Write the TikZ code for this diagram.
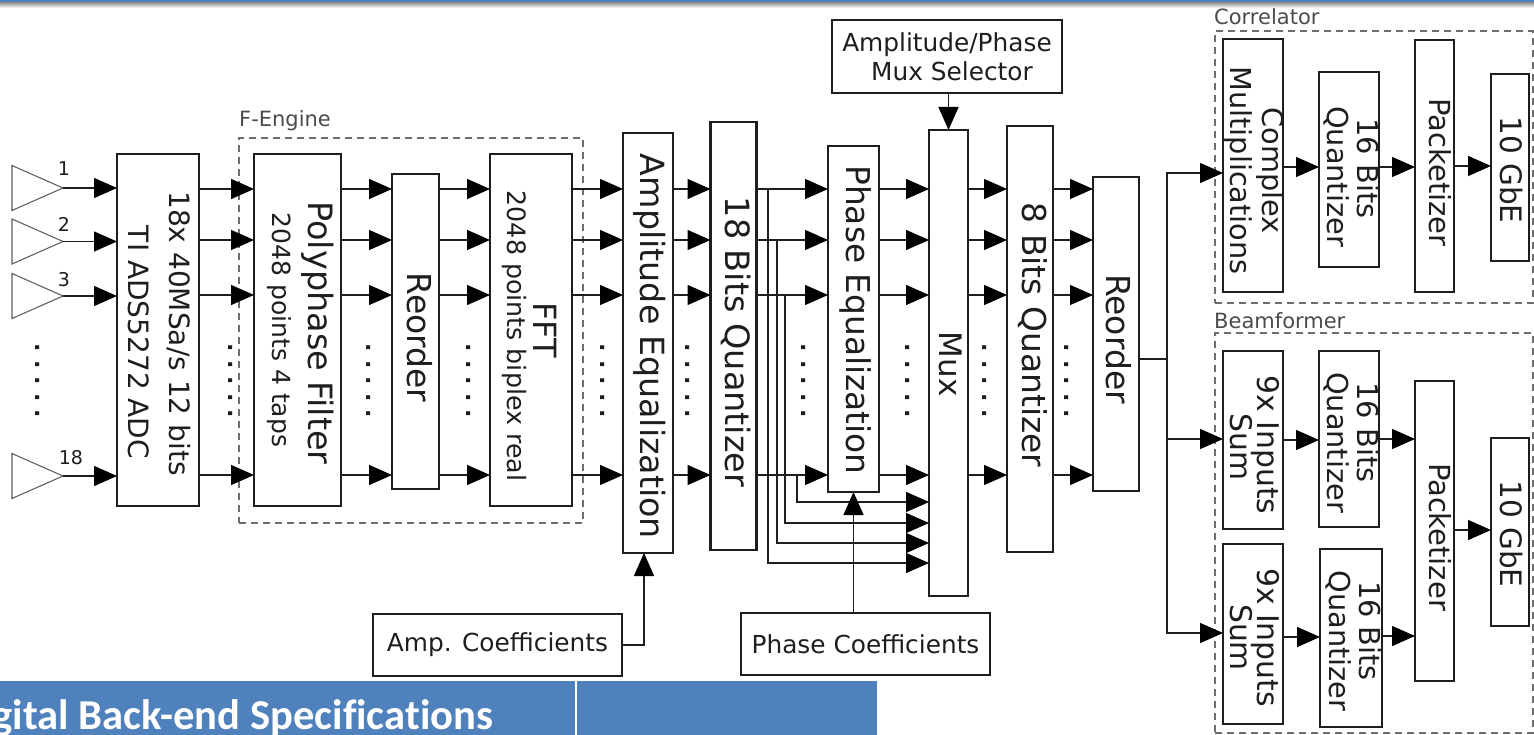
\documentclass[tikz,border=0pt]{standalone}
\usepackage{fontspec}
\setmainfont{DejaVu Sans}
\newfontfamily\tblfont[Ligatures=NoCommon]{Carlito}
\usepackage{xcolor}
\usetikzlibrary{positioning,arrows.meta,shapes.geometric}
\definecolor{ink}{HTML}{1E1E1E}
\definecolor{dashgray}{HTML}{6E6E6E}
\definecolor{hdrblue}{HTML}{4F81BD}
% dx, dy, size, baseline, lines
\newcommand{\vlab}[5]{\makebox[0pt]{\hspace*{#1pt}\hspace*{#1pt}\rotatebox{-90}{\hspace*{#2pt}\hspace*{#2pt}\fontsize{#3}{#4}\selectfont\begin{tabular}{@{}c@{}}#5\end{tabular}}}}
\newcommand{\smalltxt}{\fontsize{25}{27}\selectfont}
\newcommand{\dotrow}{\rotatebox{-90}{\fontsize{22}{24}\selectfont\textbf{.\hspace{8.2pt}.\hspace{8.2pt}.\hspace{8.2pt}.\hspace{8.2pt}.}}}
\tikzset{
  blk/.style={draw=ink, line width=2.2pt, inner sep=0pt, outer sep=0pt, text=ink},
  hblk/.style={draw=ink, line width=1.6pt, inner sep=0pt, outer sep=0pt, text=ink, font=\fontsize{24.8}{29}\selectfont, align=center},
  grp/.style={draw=dashgray, line width=1.6pt, dash pattern=on 7pt off 5pt, inner sep=0pt, outer sep=0pt},
  grplbl/.style={text=ink!80, font=\fontsize{21}{23}\selectfont, inner sep=0pt, anchor=west},
  numlbl/.style={text=ink, font=\fontsize{19}{21}\selectfont, inner sep=0pt},
  ant/.style={isosceles triangle, isosceles triangle stretches, shape border rotate=0, draw=ink!70, line width=1.1pt, minimum height=51pt, minimum width=45pt, inner sep=0pt, outer sep=0pt, anchor=apex},
  sig/.style={draw=ink, line width=1.4pt, -{Triangle[length=23pt,width=20pt,color=black]}},
  wire/.style={draw=ink, line width=1.4pt}
}
\begin{document}
\begin{tikzpicture}[x=1pt,y=-1pt]
  \useasboundingbox (0,0) rectangle (1534,735);
  % top rule and table strip
  \fill[top color=black!45,bottom color=white] (0,2) rectangle (1534,8);
  \fill[hdrblue] (0,0) rectangle (1534,2.5);
  \node[fill=hdrblue, minimum width=575pt, minimum height=54pt, inner sep=0pt, outer sep=0pt] (tblA) at (287.5,708) {};
  \node[fill=hdrblue, minimum width=300pt, minimum height=54pt, inner sep=0pt, outer sep=0pt] (tblB) at (727,708) {};
  \node[text=white, font=\tblfont\bfseries\fontsize{42.6}{44}\selectfont, inner sep=0pt, anchor=base west] (tbltxt) at (-45,729) {Digital Back-end Specifications};
  % groups
  \node[grp, minimum width=344pt, minimum height=385pt] (fengine) at (411,330.5) {};
  \node[grp, minimum width=318pt, minimum height=272pt] (corr) at (1374,167) {};
  \node[grp, minimum width=318pt, minimum height=400pt] (beam) at (1374,533) {};
  \node[grplbl] (fenginelbl) at (239,121) {F-Engine};
  \node[grplbl] (corrlbl) at (1214,17) {Correlator};
  \node[grplbl] (beamlbl) at (1214,321) {Beamformer};
  % front end
  \node[ant] (ant1) at (63,188) {};
  \node[ant] (ant2) at (63,241.5) {};
  \node[ant] (ant3) at (63,296) {};
  \node[ant] (ant18) at (63,476) {};
  \node[numlbl] (num1) at (64,169) {1};
  \node[numlbl] (num2) at (64,224) {2};
  \node[numlbl] (num3) at (64,280) {3};
  \node[numlbl] (num18) at (71,458) {18};
  % main chain
  \node[blk, minimum width=82pt, minimum height=352pt] (adc) at (158,330) {\vlab{-1}{3.5}{28}{41}{18x 40MSa/s 12 bits\\\hspace*{18pt}TI ADS5272 ADC}};
  \node[blk, minimum width=87pt, minimum height=352pt] (pf) at (297.5,330) {\vlab{0}{0}{33.5}{36}{\hspace*{6pt}Polyphase Filter\\{\smalltxt 2048 points 4 taps}}};
  \node[blk, minimum width=47pt, minimum height=315pt] (reordA) at (415.5,331.5) {\vlab{-1}{6}{33}{36}{Reorder}};
  \node[blk, minimum width=82pt, minimum height=352pt] (fft) at (531,330) {\vlab{-2.5}{6}{32}{25}{\hspace*{-12pt}FFT\\{\fontsize{25.3}{27}\selectfont 2048 points biplex real}}};
  \node[blk, minimum width=50pt, minimum height=420pt] (ampeq) at (648,343) {\vlab{0}{3.5}{33.3}{36}{Amplitude Equalization}};
  \node[blk, minimum width=46pt, minimum height=428pt] (quantA) at (733.5,336) {\vlab{-1}{6}{33.5}{36}{18 Bits Quantizer}};
  \node[blk, minimum width=51pt, minimum height=346pt] (phaseq) at (853.5,319) {\vlab{0}{1}{32.8}{36}{Phase Equalization}};
  \node[blk, minimum width=39pt, minimum height=466pt] (mux) at (948.5,363) {\vlab{-2}{1}{31}{34}{Mux}};
  \node[blk, minimum width=46pt, minimum height=426pt] (quantB) at (1030,339) {\vlab{0}{-4}{32.9}{36}{8 Bits Quantizer}};
  \node[blk, minimum width=46pt, minimum height=314pt] (reordB) at (1116,334) {\vlab{-2}{5}{33}{36}{Reorder}};
  % control boxes
  \node[hblk, minimum width=230pt, minimum height=73pt] (muxsel) at (947,56.5) {Amplitude/Phase\\\hspace*{10pt}Mux Selector};
  \node[hblk, minimum width=249pt, minimum height=62pt] (ampco) at (497.5,645) {Amp. Coefficients};
  \node[hblk, minimum width=249pt, minimum height=62pt] (phaco) at (865.5,644) {Phase Coefficients};
  % correlator
  \node[blk, minimum width=60pt, minimum height=253pt] (cmul) at (1253,165.5) {\vlab{0}{5}{28.8}{32}{Complex\\Multiplications}};
  \node[blk, minimum width=60pt, minimum height=195pt] (cquant) at (1349,169.5) {\vlab{0}{-1}{28.8}{29}{16 Bits\\\hspace*{16pt}Quantizer}};
  \node[blk, minimum width=39pt, minimum height=252pt] (cpack) at (1434.5,166) {\vlab{1}{6.5}{29}{31}{Packetizer}};
  \node[blk, minimum width=38pt, minimum height=187pt] (cgbe) at (1510,167.5) {\vlab{-3}{2.5}{29.5}{31}{10 GbE}};
  % beamformer
  \node[blk, minimum width=60pt, minimum height=178pt] (sumA) at (1253,440) {\vlab{-1.5}{5}{29.8}{25}{9x Inputs\\[-3pt]\hspace*{4pt}Sum}};
  \node[blk, minimum width=60pt, minimum height=176pt] (bquantA) at (1349,439) {\vlab{0}{-6.5}{28.8}{29}{16 Bits\\\hspace*{20pt}Quantizer}};
  \node[blk, minimum width=60pt, minimum height=180pt] (sumB) at (1253,634) {\vlab{-1.5}{3.5}{29.8}{25}{9x Inputs\\[-3pt]Sum}};
  \node[blk, minimum width=62pt, minimum height=178pt] (bquantB) at (1351,638) {\vlab{0}{-7}{28.8}{29}{16 Bits\\\hspace*{20pt}Quantizer}};
  \node[blk, minimum width=39pt, minimum height=300pt] (bpack) at (1434.5,531) {\vlab{1}{6}{29}{31}{Packetizer}};
  \node[blk, minimum width=38pt, minimum height=188pt] (bgbe) at (1510,532) {\vlab{-3}{2}{29.5}{31}{10 GbE}};
  % dots
  \foreach \x/\n in {38/a,231/b,369/c,469/d,603/e,688/f,804/g,908/h,985/i,1067/j}
    \node[inner sep=0pt, text=ink] (dots\n) at (\x,381) {\dotrow};
  % antennas to adc
  \foreach \n in {1,2,3,18}
    \draw[sig] (ant\n.apex) -- (adc.west |- ant\n.apex);
  % parallel lanes
  \foreach \a/\b in {adc/pf,pf/reordA,reordA/fft,fft/ampeq,ampeq/quantA,quantA/phaseq,phaseq/mux,mux/quantB,quantB/reordB}
    \foreach \y in {189,240,295,475}
      \draw[sig] (\a.east |- 0,\y) -- (\b.west |- 0,\y);
  % taps into mux
  \draw[sig] (768,189) coordinate (tapA) |- (mux.west |- 0,563);
  \draw[sig] (777,240) coordinate (tapB) |- (mux.west |- 0,543);
  \draw[sig] (785,295) coordinate (tapC) |- (mux.west |- 0,523);
  \draw[sig] (797,475) coordinate (tapD) |- (mux.west |- 0,502);
  % controls
  \draw[sig] (muxsel.south -| mux.north) -- (mux.north);
  \draw[sig] (phaco.north -| phaseq.south) -- (phaseq.south);
  \draw[sig] (ampco.east) -| ([xshift=-4pt]ampeq.south);
  % outputs
  \draw[wire] (reordB.east |- 0,359) -- (1167,359) coordinate (fork);
  \draw[sig] (fork) |- (cmul.west |- 0,173);
  \draw[sig] (fork) |- (sumA.west |- 0,439);
  \draw[sig] (fork) |- (sumB.west |- 0,633);
  \draw[sig] (cmul.east |- 0,167) -- (cquant.west |- 0,167);
  \draw[sig] (cquant.east |- 0,167) -- (cpack.west |- 0,167);
  \draw[sig] (cpack.east |- 0,166) -- (cgbe.west |- 0,166);
  \draw[sig] (sumA.east |- 0,440) -- (bquantA.west |- 0,440);
  \draw[sig] (bquantA.east |- 0,439) -- (bpack.west |- 0,439);
  \draw[sig] (sumB.east |- 0,637) -- (bquantB.west |- 0,637);
  \draw[sig] (bquantB.east |- 0,636) -- (bpack.west |- 0,636);
  \draw[sig] (bpack.east |- 0,530) -- (bgbe.west |- 0,530);
\end{tikzpicture}
\end{document}
